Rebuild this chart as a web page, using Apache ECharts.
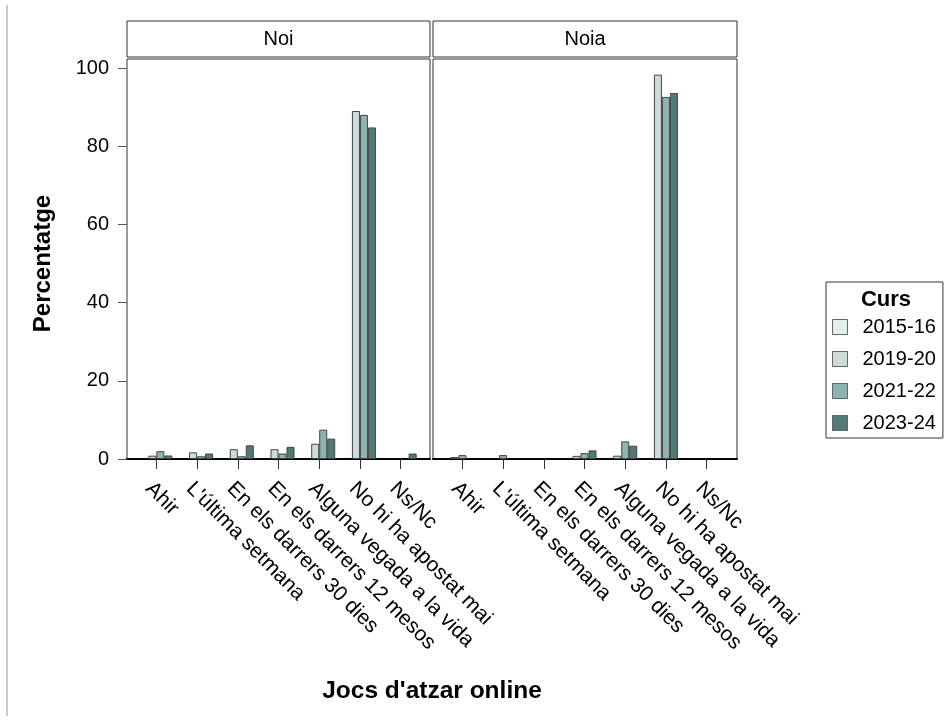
<!DOCTYPE html>
<html>
<head>
<meta charset="utf-8">
<script src="https://cdn.jsdelivr.net/npm/echarts@6/dist/echarts.min.js"></script>
<style>
html,body{margin:0;padding:0;background:#fff;}
#chart{width:952px;height:720px;}
</style>
</head>
<body>
<div id="chart"></div>
<script>
// ---- data ----
const categories = ['Ahir', "L'última setmana", 'En els darrers 30 dies', 'En els darrers 12 mesos', 'Alguna vegada a la vida', 'No hi ha apostat mai', 'Ns/Nc'];
const years = ['2015-16', '2019-20', '2021-22', '2023-24'];
const panels = ['Noi', 'Noia'];
const yTicks = [0, 20, 40, 60, 80, 100];

// Noi (boys)
const noi_2015 = [null, null, null, null, null, null, null];
const noi_2019 = [0.85, 1.7, 2.5, 2.5, 3.9, 89.0, null];
const noi_2021 = [2.0, 0.7, 0.7, 1.4, 7.5, 88.0, null];
const noi_2023 = [0.9, 1.4, 3.5, 3.1, 5.2, 84.8, 1.4];

// Noia (girls)
const noia_2019 = [0.5, null, null, 0.8, 0.85, 98.3, null];
const noia_2021 = [1.0, 1.0, null, 1.5, 4.5, 92.6, null];
const noia_2023 = [null, null, null, 2.2, 3.4, 93.6, null];

const colors = {'2015-16': '#e2eeee', '2019-20': '#cbdcdb', '2021-22': '#8cb4b1', '2023-24': '#527a77'};

// ---- layout ----
const FONT = "'Liberation Sans', Arial, sans-serif";
const frames = [
  {left: 127, top: 59, width: 303, height: 400},
  {left: 433, top: 59, width: 304, height: 400}
];
const dataGrids = [
  {left: 136, top: 68, width: 285, height: 391},
  {left: 442, top: 68, width: 285, height: 391}
];

const grid = [];
const xAxis = [];
const yAxis = [];
frames.forEach((f, i) => {
  grid.push(Object.assign({show: true, borderColor: '#333', borderWidth: 1, backgroundColor: '#fff', containLabel: false}, f));
  xAxis.push({type: 'value', gridIndex: i, min: 0, max: 1, axisLine: {show: true, onZero: false, lineStyle: {color: '#000', width: 2}}, axisTick: {show: false}, axisLabel: {show: false}, splitLine: {show: false}});
  yAxis.push({type: 'value', gridIndex: i, min: 0, max: 1, show: false});
});
dataGrids.forEach((g, i) => {
  grid.push(Object.assign({show: false, containLabel: false}, g));
  xAxis.push({
    type: 'category', gridIndex: 2 + i, data: categories,
    axisLine: {show: false},
    axisTick: {show: true, alignWithLabel: true, length: 10, lineStyle: {color: '#333', width: 1}},
    axisLabel: {rotate: -45, interval: 0, margin: 19, align: 'left', verticalAlign: 'top', color: '#000', fontSize: 21, fontFamily: FONT},
    splitLine: {show: false}
  });
  yAxis.push({
    type: 'value', gridIndex: 2 + i, min: yTicks[0], max: yTicks[yTicks.length - 1], interval: 20,
    offset: 9,
    show: i === 0,
    axisLine: {show: false},
    axisTick: {show: true, length: 9, lineStyle: {color: '#555'}},
    axisLabel: {margin: 18, color: '#000', fontSize: 20, fontFamily: FONT},
    splitLine: {show: false},
    name: i === 0 ? 'Percentatge' : '',
    nameLocation: 'middle', nameGap: 72,
    nameTextStyle: {fontSize: 24, fontWeight: 'bold', color: '#000', fontFamily: FONT}
  });
});

function barSeries(name, data, idx) {
  return {
    name: name, type: 'bar', data: data,
    xAxisIndex: idx, yAxisIndex: idx,
    barWidth: 8, barGap: '0%',
    itemStyle: {color: colors[name], borderColor: '#444', borderWidth: 1},
    emphasis: {disabled: true}
  };
}

const series = [
  barSeries('2015-16', noi_2015, 2),
  barSeries('2019-20', noi_2019, 2),
  barSeries('2021-22', noi_2021, 2),
  barSeries('2023-24', noi_2023, 2),
  barSeries('2019-20', noia_2019, 3),
  barSeries('2021-22', noia_2021, 3),
  barSeries('2023-24', noia_2023, 3)
];

const graphic = [
  {type: 'line', shape: {x1: 7, y1: 5, x2: 7, y2: 716}, style: {stroke: '#999', lineWidth: 1}, silent: true}
];
frames.forEach((f, i) => {
  graphic.push({type: 'rect', shape: {x: f.left, y: 21, width: f.width, height: 36}, style: {fill: '#fff', stroke: '#333', lineWidth: 1}, silent: true});
  graphic.push({type: 'text', x: f.left + f.width / 2, y: 39, style: {text: panels[i], fill: '#000', font: '20px ' + FONT, textAlign: 'center', textVerticalAlign: 'middle'}, silent: true});
});

const option = {
  animation: false,
  backgroundColor: '#fff',
  textStyle: {fontFamily: FONT},
  title: [
    {text: "Jocs d'atzar online", left: 432, top: 679, textAlign: 'center', padding: 0,
     textStyle: {fontSize: 24.5, fontWeight: 'bold', color: '#000', fontFamily: FONT}},
    {text: 'Curs', left: 886, top: 289, textAlign: 'center', padding: 0,
     textStyle: {fontSize: 22, fontWeight: 'bold', color: '#000', fontFamily: FONT}}
  ],
  legend: {
    data: years,
    orient: 'vertical', left: 826, top: 282,
    padding: [35, 7, 5, 6],
    borderColor: '#333', borderWidth: 1,
    itemWidth: 15, itemHeight: 15, itemGap: 12,
    icon: 'rect',
    selectedMode: false,
    itemStyle: {borderColor: '#666', borderWidth: 1},
    textStyle: {fontSize: 20, lineHeight: 20, color: '#000', fontFamily: FONT, padding: [0, 0, 0, 10]}
  },
  grid: grid,
  xAxis: xAxis,
  yAxis: yAxis,
  series: series,
  graphic: graphic
};

const chart = echarts.init(document.getElementById('chart'), null, {renderer: 'canvas'});
chart.setOption(option);
</script>
</body>
</html>
